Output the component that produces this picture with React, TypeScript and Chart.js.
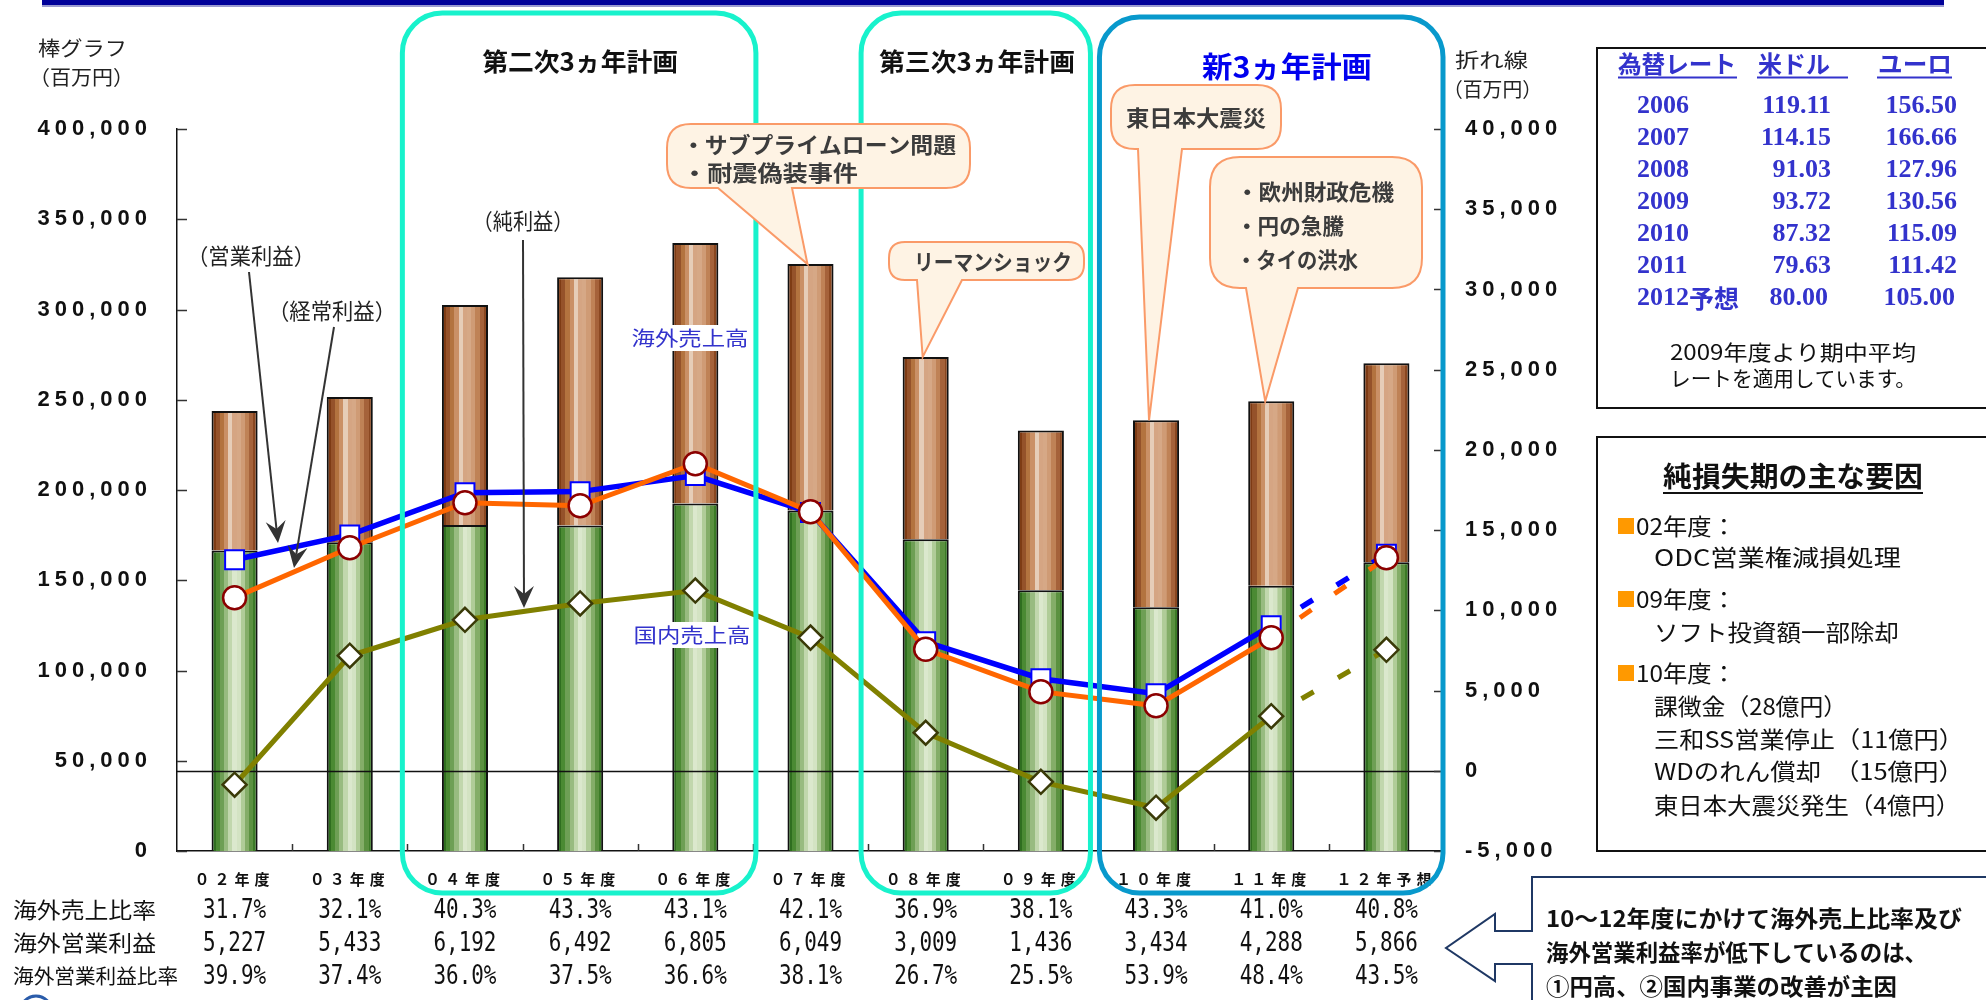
import React, { useEffect, useRef } from 'react';
import { Chart, registerables } from 'chart.js';
Chart.register(...registerables);

// ---------- data ----------
const categories = ['０２年度', '０３年度', '０４年度', '０５年度', '０６年度', '０７年度', '０８年度', '０９年度', '１０年度', '１１年度', '１２年予想'];
const domesticSales = [166500, 171000, 180600, 180300, 192500, 188700, 172700, 144400, 135000, 147000, 160000];
const overseasSales = [77300, 80500, 121900, 137600, 144300, 136500, 101000, 88600, 103600, 102100, 110200];
const operatingProfit = [13150, 14700, 17330, 17400, 18400, 16100, 8040, 5740, 4800, 9040, 13500];
const ordinaryProfit = [10790, 13900, 16710, 16520, 19140, 16150, 7570, 4930, 4050, 8290, 13280];
const netProfit = [-870, 7170, 9410, 10430, 11230, 8300, 2370, -690, -2300, 3400, 7540];

const overseasSalesRatio = ['31.7%', '32.1%', '40.3%', '43.3%', '43.1%', '42.1%', '36.9%', '38.1%', '43.3%', '41.0%', '40.8%'];
const overseasOpProfit = ['5,227', '5,433', '6,192', '6,492', '6,805', '6,049', '3,009', '1,436', '3,434', '4,288', '5,866'];
const overseasOpMargin = ['39.9%', '37.4%', '36.0%', '37.5%', '36.6%', '38.1%', '26.7%', '25.5%', '53.9%', '48.4%', '43.5%'];
const tableRowLabels = ['海外売上比率', '海外営業利益', '海外営業利益比率'];

const rateYears = ['2006', '2007', '2008', '2009', '2010', '2011', '2012'];
const usdRates = ['119.11', '114.15', '91.03', '93.72', '87.32', '79.63', '80.00'];
const eurRates = ['156.50', '166.66', '127.96', '130.56', '115.09', '111.42', '105.00'];

const lossItems = [
  { head: '02年度：', lines: ['ODC営業権減損処理'] },
  { head: '09年度：', lines: ['ソフト投資額一部除却'] },
  { head: '10年度：', lines: ['課徴金（28億円）', '三和SS営業停止（11億円）', 'WDのれん償却　（15億円）', '東日本大震災発生（4億円）'] },
];

// ---------- styling helpers ----------
const FJ = '"Noto Sans CJK JP", "Noto Sans CJK SC", sans-serif';
const GREEN_BANDS = ['#2f6e1f', '#4b8a33', '#6e9f55', '#98bb80', '#c1d7ad', '#dbe8cd', '#d3e3c3', '#b0cc98', '#84ad68', '#5b9140', '#3b7b26'];
const BROWN_BANDS = ['#7e3b14', '#95522a', '#b3733f', '#ca9066', '#e6cdb8', '#d5a583', '#d6a886', '#cf9b75', '#bf8256', '#a5623a', '#8a4720'];

function barFill(bands: string[], fallback: string) {
  return (c: any) => {
    const chart = c.chart;
    const xs = chart.scales && chart.scales.x;
    if (!chart.chartArea || !xs || c.dataIndex === undefined) return fallback;
    const cx = xs.getPixelForValue(c.dataIndex);
    const w = (xs.width / categories.length) * 0.4;
    const g = chart.ctx.createLinearGradient(cx - w / 2, 0, cx + w / 2, 0);
    const n = bands.length;
    bands.forEach((col, i) => {
      g.addColorStop(i / n, col);
      g.addColorStop(Math.min(1, (i + 1) / n - 0.0005), col);
    });
    return g;
  };
}

function fitText(ctx: any, s: string, x: number, y: number, w: number, font: string, color: string, align = 'left') {
  ctx.save();
  ctx.font = font;
  ctx.letterSpacing = '0px';
  ctx.fillStyle = color;
  ctx.textBaseline = 'middle';
  ctx.textAlign = 'left';
  const m = ctx.measureText(s).width;
  const sx = w / m;
  const x0 = align === 'left' ? x : align === 'center' ? x - w / 2 : x - w;
  ctx.translate(x0, y);
  ctx.scale(sx, 1);
  ctx.fillText(s, 0, 0);
  ctx.restore();
}

function plainText(ctx: any, s: string, x: number, y: number, font: string, color: string, align = 'left') {
  ctx.save();
  ctx.font = font;
  ctx.letterSpacing = '0px';
  ctx.fillStyle = color;
  ctx.textBaseline = 'middle';
  ctx.textAlign = align;
  ctx.fillText(s, x, y);
  const w = ctx.measureText(s).width;
  ctx.restore();
  return w;
}

function roundRectPath(ctx: any, x: number, y: number, w: number, h: number, r: number) {
  ctx.beginPath();
  ctx.moveTo(x + r, y);
  ctx.lineTo(x + w - r, y);
  ctx.arcTo(x + w, y, x + w, y + r, r);
  ctx.lineTo(x + w, y + h - r);
  ctx.arcTo(x + w, y + h, x + w - r, y + h, r);
  ctx.lineTo(x + r, y + h);
  ctx.arcTo(x, y + h, x, y + h - r, r);
  ctx.lineTo(x, y + r);
  ctx.arcTo(x, y, x + r, y, r);
  ctx.closePath();
}

function callout(ctx: any, x: number, y: number, w: number, h: number, r: number, b1: number, b2: number, tx: number, ty: number) {
  ctx.save();
  ctx.beginPath();
  ctx.moveTo(x + r, y);
  ctx.lineTo(x + w - r, y);
  ctx.quadraticCurveTo(x + w, y, x + w, y + r);
  ctx.lineTo(x + w, y + h - r);
  ctx.quadraticCurveTo(x + w, y + h, x + w - r, y + h);
  ctx.lineTo(b2, y + h);
  ctx.lineTo(tx, ty);
  ctx.lineTo(b1, y + h);
  ctx.lineTo(x + r, y + h);
  ctx.quadraticCurveTo(x, y + h, x, y + h - r);
  ctx.lineTo(x, y + r);
  ctx.quadraticCurveTo(x, y, x + r, y);
  ctx.closePath();
  ctx.fillStyle = '#fef3e4';
  ctx.fill();
  ctx.strokeStyle = '#fa9a68';
  ctx.lineWidth = 2;
  ctx.stroke();
  ctx.restore();
}

function arrow(ctx: any, x1: number, y1: number, x2: number, y2: number) {
  const ang = Math.atan2(y2 - y1, x2 - x1);
  const L = 22, W = 10, inset = 8;
  ctx.save();
  ctx.strokeStyle = '#333';
  ctx.fillStyle = '#333';
  ctx.lineWidth = 2;
  ctx.beginPath();
  ctx.moveTo(x1, y1);
  ctx.lineTo(x2 - Math.cos(ang) * (L - inset), y2 - Math.sin(ang) * (L - inset));
  ctx.stroke();
  ctx.translate(x2, y2);
  ctx.rotate(ang);
  ctx.beginPath();
  ctx.moveTo(0, 0);
  ctx.lineTo(-L, -W);
  ctx.lineTo(-L + inset, 0);
  ctx.lineTo(-L, W);
  ctx.closePath();
  ctx.fill();
  ctx.restore();
}

const decor = {
  id: 'decor',
  beforeDraw(chart: any) {
    const ctx = chart.ctx;
    ctx.save();
    ctx.fillStyle = '#fff';
    ctx.fillRect(0, 0, chart.width, chart.height);
    ctx.restore();
    ctx.letterSpacing = '5px';
  },
  afterDatasetDraw(chart: any, args: any) {
    if (args.index !== 0) return;
    const ctx = chart.ctx;
    const a = chart.chartArea;
    const y0 = Math.round(chart.scales.y1.getPixelForValue(0)) + 0.5;
    ctx.save();
    ctx.strokeStyle = '#111';
    ctx.lineWidth = 1.5;
    ctx.beginPath();
    ctx.moveTo(a.left, y0);
    ctx.lineTo(a.right, y0);
    ctx.stroke();
    ctx.restore();
  },
  afterDraw(chart: any) {
    const ctx = chart.ctx;
    const xs = chart.scales.x, ys = chart.scales.y, y1 = chart.scales.y1;
    const a = chart.chartArea;
    const n = categories.length;
    const bnd = (i: number) => xs.left + (i * xs.width) / n;
    const barTop = (i: number) => ys.getPixelForValue(domesticSales[i] + overseasSales[i]);
    ctx.save();
    ctx.letterSpacing = '0px';

    // top band
    ctx.fillStyle = '#000099';
    ctx.fillRect(42, 0, 1902, 5);
    ctx.fillStyle = '#9a9ad0';
    ctx.fillRect(42, 5, 1902, 2);

    // inward ticks
    ctx.strokeStyle = '#333';
    ctx.lineWidth = 1.5;
    ctx.beginPath();
    ys.ticks.forEach((t: any) => {
      const p = Math.round(ys.getPixelForValue(t.value)) + 0.5;
      ctx.moveTo(a.left, p);
      ctx.lineTo(a.left + 10, p);
    });
    y1.ticks.forEach((t: any) => {
      const p = Math.round(y1.getPixelForValue(t.value)) + 0.5;
      ctx.moveTo(a.right, p);
      ctx.lineTo(a.right - 10, p);
    });
    for (let i = 1; i < n; i++) {
      const p = Math.round(bnd(i)) + 0.5;
      ctx.moveTo(p, a.bottom);
      ctx.lineTo(p, a.bottom - 7);
    }
    ctx.stroke();

    // axis titles
    fitText(ctx, '棒グラフ', 38, 48, 89, `20px ${FJ}`, '#222');
    fitText(ctx, '（百万円）', 29, 77, 105, `20px ${FJ}`, '#222');
    fitText(ctx, '折れ線', 1455, 60, 73, `20px ${FJ}`, '#222');
    fitText(ctx, '（百万円）', 1443, 89, 99, `20px ${FJ}`, '#222');

    // label texts and arrows
    fitText(ctx, '（営業利益）', 251, 256, 128, `22px ${FJ}`, '#222', 'center');
    fitText(ctx, '（経常利益）', 332, 311, 128, `22px ${FJ}`, '#222', 'center');
    fitText(ctx, '（純利益）', 523, 221, 101, `22px ${FJ}`, '#222', 'center');
    arrow(ctx, 249, 272, 278, 543);
    arrow(ctx, 334, 327, 294, 568);
    arrow(ctx, 523, 240, 524, 608);

    // 海外売上高 / 国内売上高
    [['海外売上高', 690, 338], ['国内売上高', 692, 635]].forEach(([s, x, y]: any) => {
      ctx.fillStyle = '#fff';
      ctx.fillRect(x - 60, y - 13, 120, 26);
      fitText(ctx, s, x, y, 117, `20px ${FJ}`, '#3333cc', 'center');
    });

    // plan boxes
    ctx.lineWidth = 5;
    ctx.strokeStyle = '#18f2cc';
    roundRectPath(ctx, bnd(2) - 5, 13, bnd(5) + 3 - (bnd(2) - 5), 880, 40);
    ctx.stroke();
    roundRectPath(ctx, bnd(6) - 7, 13, bnd(8) - 8 - (bnd(6) - 7), 880, 40);
    ctx.stroke();
    ctx.strokeStyle = '#0899cc';
    roundRectPath(ctx, bnd(8) + 1, 17, bnd(11) - 1 - (bnd(8) + 1), 876, 40);
    ctx.stroke();
    fitText(ctx, '第二次3ヵ年計画', (bnd(2) + bnd(5)) / 2, 61, 196, `bold 25px ${FJ}`, '#111', 'center');
    fitText(ctx, '第三次3ヵ年計画', 977, 61, 196, `bold 25px ${FJ}`, '#111', 'center');
    fitText(ctx, '新3ヵ年計画', 1287, 67, 170, `bold 29px ${FJ}`, '#0000ee', 'center');

    // callouts
    const CF = `bold 22px ${FJ}`;
    const CC = '#3c3c3c';
    callout(ctx, 667, 124, 303, 64, 24, 718, 792, xs.getPixelForValue(5) - 3, barTop(5));
    fitText(ctx, '・サブプライムローン問題', 682, 145, 274, CF, CC);
    fitText(ctx, '・耐震偽装事件', 682, 173, 176, CF, CC);

    callout(ctx, 889, 242, 195, 38, 16, 917, 962, xs.getPixelForValue(6) - 3, barTop(6));
    fitText(ctx, 'リーマンショック', 914, 262, 158, CF, CC);

    callout(ctx, 1111, 85, 170, 64, 24, 1138, 1182, xs.getPixelForValue(8) - 7, barTop(8));
    fitText(ctx, '東日本大震災', 1126, 118, 140, CF, CC);

    callout(ctx, 1210, 157, 212, 131, 30, 1246, 1298, xs.getPixelForValue(9) - 6, barTop(9));
    fitText(ctx, '・欧州財政危機', 1236, 192, 158, CF, CC);
    fitText(ctx, '・円の急騰', 1236, 226, 108, CF, CC);
    fitText(ctx, '・タイの洪水', 1236, 260, 122, CF, CC);

    // bottom data table
    const rowsY = [910, 943, 976];
    const rowW = [143, 143, 165];
    const rowData = [overseasSalesRatio, overseasOpProfit, overseasOpMargin];
    tableRowLabels.forEach((lab, r) => {
      fitText(ctx, lab, 13, rowsY[r], rowW[r], `${r === 2 ? 20 : 22}px ${FJ}`, '#111');
      rowData[r].forEach((v, i) => {
        fitText(ctx, v, xs.getPixelForValue(i), rowsY[r] + 1, 63, '27px "DejaVu Sans Mono"', '#111', 'center');
      });
    });

    // exchange rate box
    ctx.strokeStyle = '#111';
    ctx.lineWidth = 2;
    ctx.strokeRect(1597, 48, 400, 360);
    const BL = '#3333cc';
    fitText(ctx, '為替レート', 1618, 64, 118, `bold 24px ${FJ}`, BL);
    fitText(ctx, '米ドル', 1758, 64, 72, `bold 24px ${FJ}`, BL);
    fitText(ctx, 'ユーロ', 1878, 64, 74, `bold 24px ${FJ}`, BL);
    ctx.strokeStyle = BL;
    ctx.lineWidth = 2;
    ctx.beginPath();
    ctx.moveTo(1618, 77.5); ctx.lineTo(1737, 77.5);
    ctx.moveTo(1757, 77.5); ctx.lineTo(1848, 77.5);
    ctx.moveTo(1877, 77.5); ctx.lineTo(1952, 77.5);
    ctx.stroke();
    const SF = 'bold 26px "Liberation Serif"';
    rateYears.forEach((yr, i) => {
      const y = 106 + i * 32;
      const w = plainText(ctx, yr, 1637, y, SF, BL, 'left');
      if (i === rateYears.length - 1) {
        plainText(ctx, '予想', 1637 + w, y, `bold 25px ${FJ}`, BL, 'left');
      }
      plainText(ctx, usdRates[i], i === rateYears.length - 1 ? 1828 : 1831, y, SF, BL, 'right');
      plainText(ctx, eurRates[i], i === rateYears.length - 1 ? 1955 : 1957, y, SF, BL, 'right');
    });
    fitText(ctx, '2009年度より期中平均', 1670, 352, 246, `21px ${FJ}`, '#111');
    fitText(ctx, 'レートを適用しています。', 1670, 378, 246, `21px ${FJ}`, '#111');

    // loss factors box
    ctx.strokeStyle = '#111';
    ctx.lineWidth = 2;
    ctx.strokeRect(1597, 437, 400, 414);
    fitText(ctx, '純損失期の主な要因', 1793, 476, 260, `bold 28px ${FJ}`, '#111', 'center');
    ctx.beginPath();
    ctx.moveTo(1663, 493); ctx.lineTo(1923, 493);
    ctx.stroke();
    const headY = [526, 599, 673];
    const lineY = [[557], [632], [706, 739, 771, 805]];
    const lineW = [[247], [245], [193, 310, 310, 306]];
    lossItems.forEach((it, k) => {
      ctx.fillStyle = '#ff9900';
      ctx.fillRect(1618, headY[k] - 8, 16, 16);
      fitText(ctx, it.head, 1636, headY[k], 100, `23px ${FJ}`, '#111');
      it.lines.forEach((s, j) => fitText(ctx, s, 1654, lineY[k][j], lineW[k][j], `23px ${FJ}`, '#111'));
    });

    // arrow box
    ctx.strokeStyle = '#1f3864';
    ctx.lineWidth = 2;
    ctx.beginPath();
    ctx.moveTo(1990, 877);
    ctx.lineTo(1532, 877);
    ctx.lineTo(1532, 931);
    ctx.lineTo(1495, 931);
    ctx.lineTo(1495, 914);
    ctx.lineTo(1446, 948);
    ctx.lineTo(1495, 981);
    ctx.lineTo(1495, 964);
    ctx.lineTo(1532, 964);
    ctx.lineTo(1532, 1003);
    ctx.stroke();
    fitText(ctx, '10～12年度にかけて海外売上比率及び', 1546, 918, 416, `bold 23px ${FJ}`, '#111');
    fitText(ctx, '海外営業利益率が低下しているのは、', 1546, 952, 381, `bold 23px ${FJ}`, '#111');
    fitText(ctx, '①円高、②国内事業の改善が主因', 1546, 986, 351, `bold 23px ${FJ}`, '#111');

    // partial logo at bottom-left
    ctx.strokeStyle = '#2a5caa';
    ctx.lineWidth = 3;
    ctx.beginPath();
    ctx.arc(36, 1012, 16, Math.PI, 2 * Math.PI);
    ctx.stroke();

    ctx.restore();
  },
};

const numFmt = (v: any) => Number(v).toLocaleString('en-US');

export default function App() {
  const ref = useRef<HTMLCanvasElement>(null);
  useEffect(() => {
    document.body.style.margin = '0';
    document.body.style.overflow = 'hidden';
    const canvas = ref.current as HTMLCanvasElement;
    const dash = (c: any) => (c.p0DataIndex === 9 ? [14, 28] : undefined);
    const dashOff = (c: any) => (c.p0DataIndex === 9 ? 7 : undefined);
    const chart = new Chart(canvas, {
      data: {
        labels: categories,
        datasets: [
          {
            type: 'bar', label: '国内売上高', data: domesticSales, yAxisID: 'y', stack: 's', order: 10,
            backgroundColor: barFill(GREEN_BANDS, '#6e9f55'), borderColor: '#111', borderWidth: 2,
            barPercentage: 0.8, categoryPercentage: 0.5,
          },
          {
            type: 'bar', label: '海外売上高', data: overseasSales, yAxisID: 'y', stack: 's', order: 10,
            backgroundColor: barFill(BROWN_BANDS, '#b3733f'), borderColor: '#111', borderWidth: 2,
            barPercentage: 0.8, categoryPercentage: 0.5,
          },
          {
            type: 'line', label: '純利益', data: netProfit, yAxisID: 'y1', order: 3,
            borderColor: '#808000', borderWidth: 5, tension: 0,
            pointStyle: 'rectRot', pointRadius: 12, pointBackgroundColor: '#fff', pointBorderColor: '#3a3a08', pointBorderWidth: 2.5,
            segment: { borderDash: dash, borderDashOffset: dashOff },
          },
          {
            type: 'line', label: '営業利益', data: operatingProfit, yAxisID: 'y1', order: 2,
            borderColor: '#0000ff', borderWidth: 5.5, tension: 0,
            pointStyle: 'rect', pointRadius: 13.4, pointBackgroundColor: '#fff', pointBorderColor: '#0000ff', pointBorderWidth: 2,
            segment: { borderDash: dash, borderDashOffset: dashOff },
          },
          {
            type: 'line', label: '経常利益', data: ordinaryProfit, yAxisID: 'y1', order: 1,
            borderColor: '#ff6600', borderWidth: 5, tension: 0,
            pointStyle: 'circle', pointRadius: 11.5, pointBackgroundColor: '#fff', pointBorderColor: '#8b0000', pointBorderWidth: 2.5,
            segment: { borderDash: dash, borderDashOffset: dashOff },
          },
        ] as any,
      },
      options: {
        responsive: false,
        animation: false,
        events: [],
        layout: { padding: { left: 0, right: 392, top: 129, bottom: 99 } },
        plugins: { legend: { display: false }, tooltip: { enabled: false } },
        scales: {
          x: {
            stacked: true, offset: true,
            grid: { display: false, drawTicks: false },
            border: { display: true, color: '#111', width: 1.5 },
            ticks: { font: { family: 'Noto Sans CJK JP', size: 15, weight: 'bold' }, color: '#111', padding: 19, autoSkip: false, maxRotation: 0 },
            afterFit: (s: any) => { s.height = 50; },
          },
          y: {
            stacked: true, position: 'left', min: 0, max: 400000,
            grid: { display: false, drawTicks: false },
            border: { display: true, color: '#111', width: 1.5 },
            ticks: { stepSize: 50000, font: { family: 'Liberation Sans', size: 22, weight: 'bold' }, color: '#111', padding: 25, callback: numFmt },
            afterFit: (s: any) => { s.width = 177; },
          },
          y1: {
            position: 'right', min: -5000, max: 40000,
            grid: { display: false, drawTicks: false },
            border: { display: true, color: '#111', width: 1.5 },
            ticks: { stepSize: 5000, font: { family: 'Liberation Sans', size: 22, weight: 'bold' }, color: '#111', padding: 21, callback: numFmt },
            afterFit: (s: any) => { s.width = 150; },
          },
        } as any,
      },
      plugins: [decor],
    } as any);
    return () => chart.destroy();
  }, []);
  return (
    <div style={{ width: 1986, height: 1000, position: 'relative', background: '#fff' }}>
      <canvas ref={ref} width={1986} height={1000} style={{ display: 'block', width: 1986, height: 1000 }} />
    </div>
  );
}
